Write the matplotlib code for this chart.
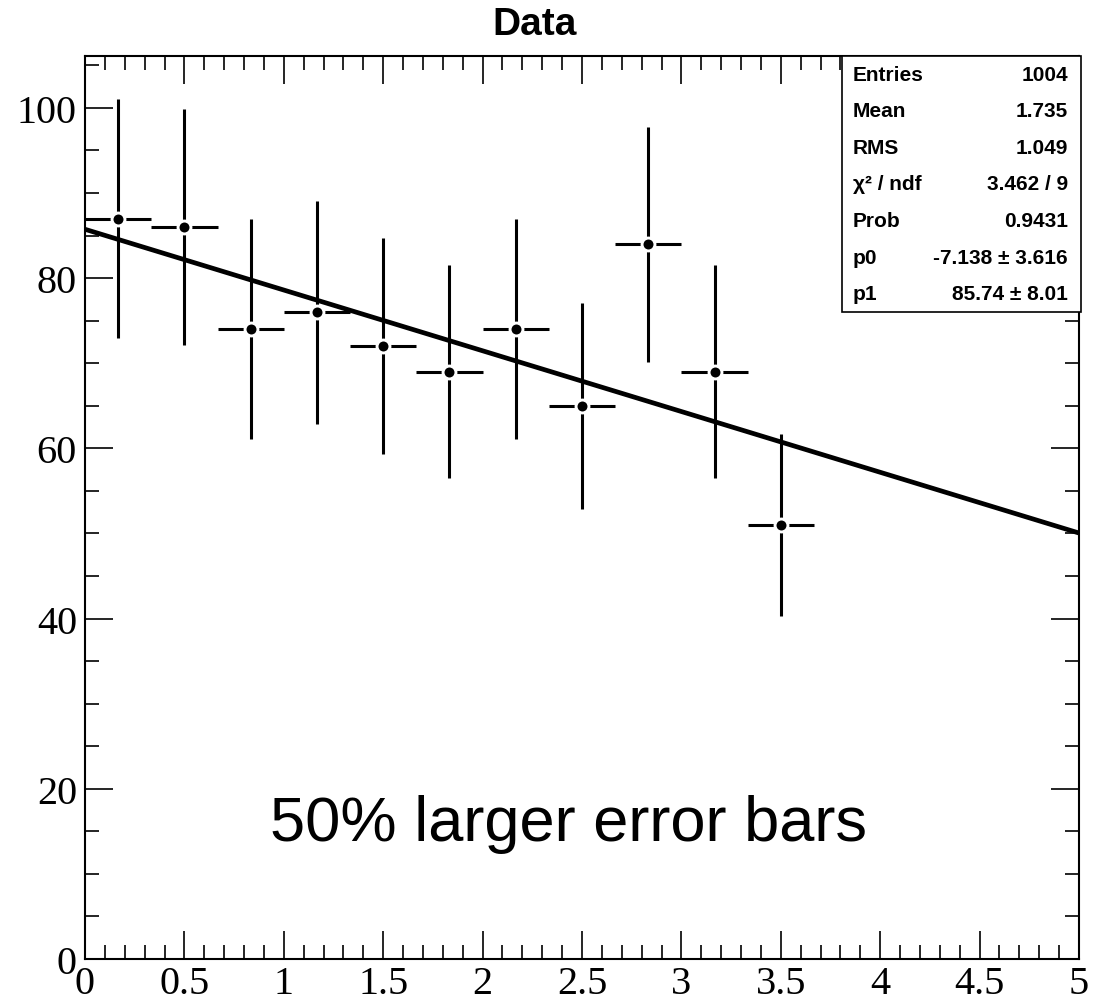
#!/usr/bin/env python
# -*- coding: utf-8 -*-

import numpy as np
import matplotlib
matplotlib.use('Agg')
import matplotlib.pyplot as plt
from matplotlib.ticker import MultipleLocator, FixedLocator
from matplotlib.patches import Rectangle

# histogram: 15 bins of width 1/3 on [0, 5], only the first 11 filled
bin_width = 1.0 / 3.0
bin_centers = (np.arange(11) + 0.5) * bin_width
counts = [87, 86, 74, 76, 72, 69, 74, 65, 84, 69, 51]
errors = [14.0, 13.9, 12.9, 13.1, 12.7, 12.5, 12.9, 12.1, 13.8, 12.5, 10.7]

# linear fit y = p0 * x + p1
p0 = -7.138
p1 = 85.74

stats_labels = ['Entries', 'Mean', 'RMS', '\u03c7\u00b2 / ndf', 'Prob', 'p0', 'p1']
stats_values = ['1004', '1.735', '1.049', '3.462 / 9', '0.9431',
                '-7.138 \u00b1 3.616', '85.74 \u00b1 8.01']

x_ticks = [0, 0.5, 1, 1.5, 2, 2.5, 3, 3.5, 4, 4.5, 5]
y_ticks = [0, 20, 40, 60, 80, 100]

W, H = 1101, 1004
fig = plt.figure(figsize=(W / 100, H / 100), dpi=100)
ax = fig.add_axes([85 / W, 44 / H, 994 / W, 903 / H])

ax.set_xlim(0, 5)
ax.set_ylim(0, 106.1)

# error bars, then markers with a white ring so the bars stop short of the dot
ax.errorbar(bin_centers, counts, yerr=errors, xerr=bin_width / 2,
            fmt='none', ecolor='black', elinewidth=2.2, capsize=0, zorder=2)
ax.plot(bin_centers, counts, 'o', color='black', markersize=9.3,
        markeredgecolor='white', markeredgewidth=2.1, zorder=3)

xf = np.array([0.0, 5.0])
ax.plot(xf, p0 * xf + p1, color='black', linewidth=3.4, zorder=4,
        solid_capstyle='butt')

ax.text(0.93, 14, '50% larger error bars', fontsize=45.5,
        family='Liberation Sans', va='baseline', ha='left')

# ROOT style axes
for sp in ax.spines.values():
    sp.set_linewidth(1.5)
ax.xaxis.set_major_locator(FixedLocator(x_ticks))
ax.xaxis.set_minor_locator(MultipleLocator(0.1))
ax.yaxis.set_major_locator(FixedLocator(y_ticks))
ax.yaxis.set_minor_locator(MultipleLocator(5))
ax.set_xticklabels(['%g' % t for t in x_ticks])
ax.set_yticklabels(['%g' % t for t in y_ticks])
ax.tick_params(which='both', direction='in', top=True, right=True,
               width=1.2, labelsize=29)
ax.tick_params(which='major', length=20)
ax.tick_params(which='minor', length=10)
ax.tick_params(axis='x', pad=4.5)
ax.tick_params(axis='y', pad=5.8)
for lab in ax.get_xticklabels() + ax.get_yticklabels():
    lab.set_family('Liberation Serif')

fig.text(535 / W, 1 - 35 / H, 'Data', ha='center', va='baseline',
         fontsize=28, weight='bold', family='Liberation Sans')

# stats box
bx0, bx1 = 842, 1080.5
by0, by1 = 56.7, 313
fig.add_artist(Rectangle((bx0 / W, 1 - by1 / H), (bx1 - bx0) / W, (by1 - by0) / H,
                         transform=fig.transFigure, facecolor='white',
                         edgecolor='black', linewidth=1.2, zorder=5))
row_h = (by1 - by0) / len(stats_labels)
for i, (lab, val) in enumerate(zip(stats_labels, stats_values)):
    yc = 1 - (by0 + (i + 0.5) * row_h) / H
    fig.text(852.7 / W, yc, lab, ha='left', va='center', fontsize=15,
             weight='bold', family='Liberation Sans', zorder=6)
    fig.text(1068 / W, yc, val, ha='right', va='center', fontsize=15,
             weight='bold', family='Liberation Sans', zorder=6)

fig.savefig('out.png', dpi=100)
